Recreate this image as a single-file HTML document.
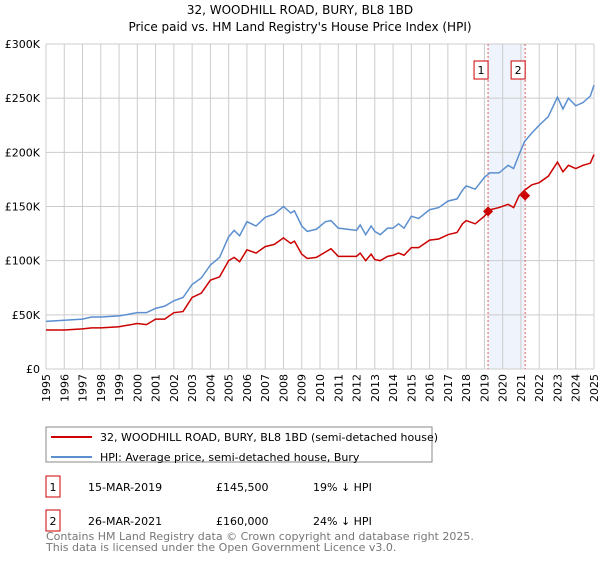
<!DOCTYPE html>
<html><head><meta charset="utf-8"><style>
body{margin:0;background:#fff;font-family:"DejaVu Sans","Liberation Sans",sans-serif;}
svg text{font-family:"DejaVu Sans","Liberation Sans",sans-serif;}
</style></head><body>
<svg id="c" width="600" height="560" xmlns="http://www.w3.org/2000/svg">
<text x="300" y="14" text-anchor="middle" font-size="12">32, WOODHILL ROAD, BURY, BL8 1BD</text>
<text x="300" y="31" text-anchor="middle" font-size="12">Price paid vs. HM Land Registry's House Price Index (HPI)</text>
<g id="grid"></g><g id="axes"></g><g id="series"></g>
<rect x="46" y="427" width="386" height="35" fill="#fff" stroke="#888"/>
<line x1="51" y1="437" x2="92" y2="437" stroke="#cc0000" stroke-width="2"/>
<text x="100" y="441" font-size="11">32, WOODHILL ROAD, BURY, BL8 1BD (semi-detached house)</text>
<line x1="51" y1="457" x2="92" y2="457" stroke="#5b8fd0" stroke-width="2"/>
<text x="100" y="461" font-size="11">HPI: Average price, semi-detached house, Bury</text>
<rect x="46" y="476" width="14" height="21" fill="none" stroke="#cc0000"/>
<text x="53" y="491" font-size="11" text-anchor="middle">1</text>
<text x="88" y="491" font-size="11">15-MAR-2019</text>
<text x="216" y="491" font-size="11">£145,500</text>
<text x="313" y="491" font-size="11">19% ↓ HPI</text>
<rect x="46" y="510" width="14" height="21" fill="none" stroke="#cc0000"/>
<text x="53" y="525" font-size="11" text-anchor="middle">2</text>
<text x="88" y="525" font-size="11">26-MAR-2021</text>
<text x="216" y="525" font-size="11">£160,000</text>
<text x="313" y="525" font-size="11">24% ↓ HPI</text>
<text x="46" y="540" font-size="11" fill="#777">Contains HM Land Registry data © Crown copyright and database right 2025.</text>
<text x="46" y="551" font-size="11" fill="#777">This data is licensed under the Open Government Licence v3.0.</text>
</svg>
<script>
const dates=[1995,1996,1997,1997.5,1998,1999,2000,2000.5,2001,2001.5,2002,2002.5,2003,2003.5,2004,2004.5,2005,2005.3,2005.6,2006,2006.5,2007,2007.5,2008,2008.4,2008.6,2009,2009.3,2009.8,2010.3,2010.6,2011,2011.5,2012,2012.2,2012.5,2012.8,2013,2013.3,2013.7,2014,2014.3,2014.6,2015,2015.4,2016,2016.5,2017,2017.5,2017.8,2018,2018.5,2019,2019.3,2019.8,2020.3,2020.6,2020.9,2021.2,2021.6,2022,2022.5,2023,2023.3,2023.6,2024,2024.4,2024.8,2025];
const hpi=[44,45,46,48,48,49,52,52,56,58,63,66,78,84,96,103,122,128,123,136,132,140,143,150,144,146,132,127,129,136,137,130,129,128,133,124,132,127,124,130,130,134,130,141,139,147,149,155,157,165,169,166,177,181,181,188,185,198,210,218,225,233,251,240,250,243,246,252,262];
const prop=[36,36,37,38,38,39,42,41,46,46,52,53,66,70,82,85,100,103,99,110,107,113,115,121,116,118,106,102,103,108,111,104,104,104,107,100,106,101,100,104,105,107,105,112,112,119,120,124,126,134,137,134,141,147,149,152,149,160,165,170,172,178,191,182,188,185,188,190,198];
const saleDates=[2019.2,2021.23];
const salePrices=[145.5,160];
const saleLabels=["1","2"];
const yTicks=[0,50,100,150,200,250,300];
const yTickLabels=["£0","£50K","£100K","£150K","£200K","£250K","£300K"];
const x0=46,x1=594,y0=369,y1=44;
const X=d=>x0+(d-1995)/30*(x1-x0);
const Y=v=>y0-v/300*(y0-y1);
const NS="http://www.w3.org/2000/svg";
function mk(p,t,a){const e=document.createElementNS(NS,t);for(const k in a)e.setAttribute(k,a[k]);p.appendChild(e);return e;}
const grid=document.getElementById('grid'),axes=document.getElementById('axes'),ser=document.getElementById('series');
const band=mk(grid,'rect',{x:X(saleDates[0]),y:y1,width:X(saleDates[1])-X(saleDates[0]),height:y0-y1,fill:'#eef3fc'});


for(let yr=1995;yr<=2025;yr++){
  const l=mk(grid,'line',{x1:X(yr),x2:X(yr),y1:y1,y2:y0,stroke:'#ccc'});
  
  
  const t=mk(axes,'text',{x:0,y:0,'font-size':11,'text-anchor':'end',transform:`translate(${X(yr)+4},${y0+5}) rotate(-90)`});
  t.textContent=yr;
  
  
}
yTicks.forEach((v,i)=>{
  const l=mk(grid,'line',{x1:x0,x2:x1,y1:Y(v),y2:Y(v),stroke:'#ccc'});
  
  
  const t=mk(axes,'text',{x:40,y:Y(v)+4,'font-size':11,'text-anchor':'end'});
  t.textContent=yTickLabels[i];
  
  
});
saleDates.forEach((d,i)=>{
  const l=mk(grid,'line',{x1:X(d),x2:X(d),y1:y1,y2:y0,stroke:'#e06060','stroke-dasharray':'2,2'});
  
  
  const b=mk(axes,'rect',{x:X(d)-14,y:61,width:14,height:18,fill:'#fff',stroke:'#cc0000'});
  
  
  const t=mk(axes,'text',{x:X(d)-7,y:74,'font-size':11,'text-anchor':'middle'});
  t.textContent=saleLabels[i];
  
  
});
const ph=mk(ser,'polyline',{points:dates.map((d,i)=>X(d)+','+Y(hpi[i])).join(' '),fill:'none',stroke:'#5b8fd0','stroke-width':1.5});


const pp=mk(ser,'polyline',{points:dates.map((d,i)=>X(d)+','+Y(prop[i])).join(' '),fill:'none',stroke:'#cc0000','stroke-width':1.5});


saleDates.forEach((d,i)=>{
  const x=X(d),y=Y(salePrices[i]);
  const m=mk(ser,'polygon',{points:`${x},${y-5} ${x+5},${y} ${x},${y+5} ${x-5},${y}`,fill:'#cc0000'});
  
  
});
</script>
</body></html>
